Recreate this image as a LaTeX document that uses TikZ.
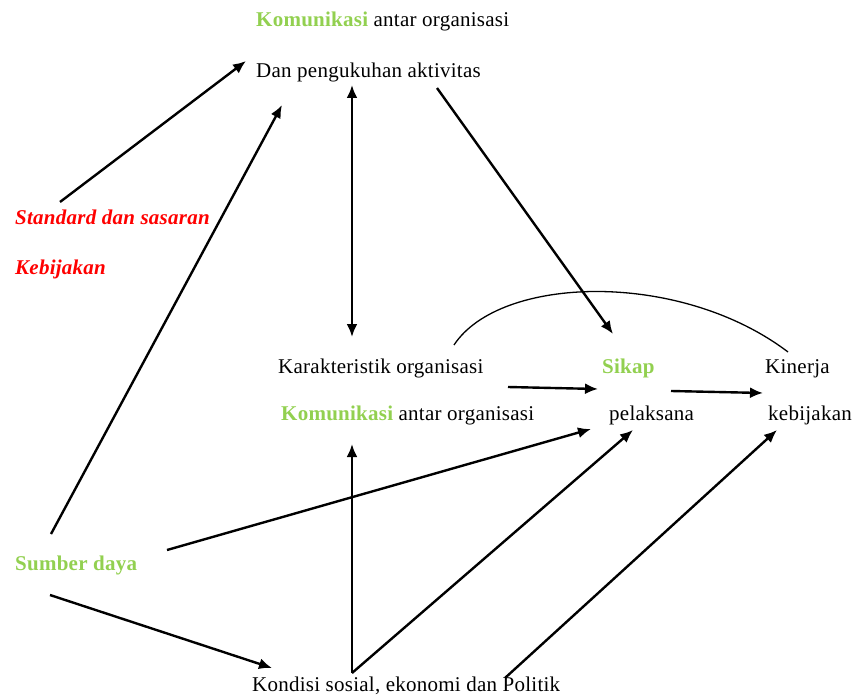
\documentclass[tikz,border=0pt]{standalone}
\usepackage{fontspec}
\setmainfont[LetterSpace=1.2]{Liberation Serif}
\usetikzlibrary{arrows.meta}
\definecolor{kgreen}{RGB}{146,208,80}
\begin{document}
\begin{tikzpicture}[x=1pt,y=-1pt,
  lbl/.style={anchor=base west,inner sep=0pt,font=\fontsize{21}{25}\selectfont},
  redlbl/.style={lbl,text=red,font=\fontsize{21}{25}\selectfont\bfseries\itshape},
  greenlbl/.style={lbl,text=kgreen,font=\fontsize{21}{25}\selectfont\bfseries},
  arr/.style={line width=2.4pt,-{Latex[length=13pt,width=11pt]}},
  darr/.style={line width=2.4pt,{Latex[length=13pt,width=11pt]}-{Latex[length=13pt,width=11pt]}},
  arcline/.style={line width=1.3pt}]
\useasboundingbox (0,0) rectangle (852,695);
% texts
\node[lbl] (kom1) at (256,27) {{\bfseries\color{kgreen}Komunikasi} antar organisasi};
\node[lbl] (dan) at (256,78) {Dan pengukuhan aktivitas};
\node[redlbl] (std) at (15,225) {Standard dan sasaran};
\node[redlbl] (keb) at (15,275) {Kebijakan};
\node[lbl] (kar) at (278,373) {Karakteristik organisasi};
\node[lbl] (kom2) at (281,420) {{\bfseries\color{kgreen}Komunikasi} antar organisasi};
\node[greenlbl] (sik) at (602,373) {Sikap};
\node[lbl] (pel) at (609,420) {pelaksana};
\node[lbl] (kin) at (765,373) {Kinerja};
\node[lbl] (kebj) at (768,420) {kebijakan};
\node[greenlbl] (sum) at (15,570) {Sumber daya};
\node[lbl] (kon) at (252,691) {Kondisi sosial, ekonomi dan Politik};
% connector endpoints
\coordinate (a1s) at (60,202);   \coordinate (a1e) at (246,61);
\coordinate (a2s) at (51,534);   \coordinate (a2e) at (282,105);
\coordinate (a3s) at (352,85);   \coordinate (a3e) at (352,337);
\coordinate (a4s) at (437,88);   \coordinate (a4e) at (613,334);
\coordinate (c1) at (454,345);   \coordinate (c2) at (788,352);
\coordinate (a6s) at (508,387);  \coordinate (a6e) at (598,389);
\coordinate (a7s) at (671,391);  \coordinate (a7e) at (763,393);
\coordinate (a8s) at (167,550);  \coordinate (a8e) at (591,429);
\coordinate (a9s) at (50,595);   \coordinate (a9e) at (272,668);
\coordinate (bot) at (352,673);  \coordinate (a10e) at (352,444);
\coordinate (a11e) at (633,430);
\coordinate (a12s) at (505,678); \coordinate (a12e) at (777,430);
% connectors
\draw[arr] (a1s) -- (a1e);
\draw[arr] (a2s) -- (a2e);
\draw[darr] (a3s) -- (a3e);
\draw[arr] (a4s) -- (a4e);
\draw[arcline] (c1) .. controls (500,275) and (680,270) .. (c2);
\draw[arr] (a6s) -- (a6e);
\draw[arr] (a7s) -- (a7e);
\draw[arr] (a8s) -- (a8e);
\draw[arr] (a9s) -- (a9e);
\draw[arr] (bot) -- (a10e);
\draw[arr] (bot) -- (a11e);
\draw[arr] (a12s) -- (a12e);
\end{tikzpicture}
\end{document}
